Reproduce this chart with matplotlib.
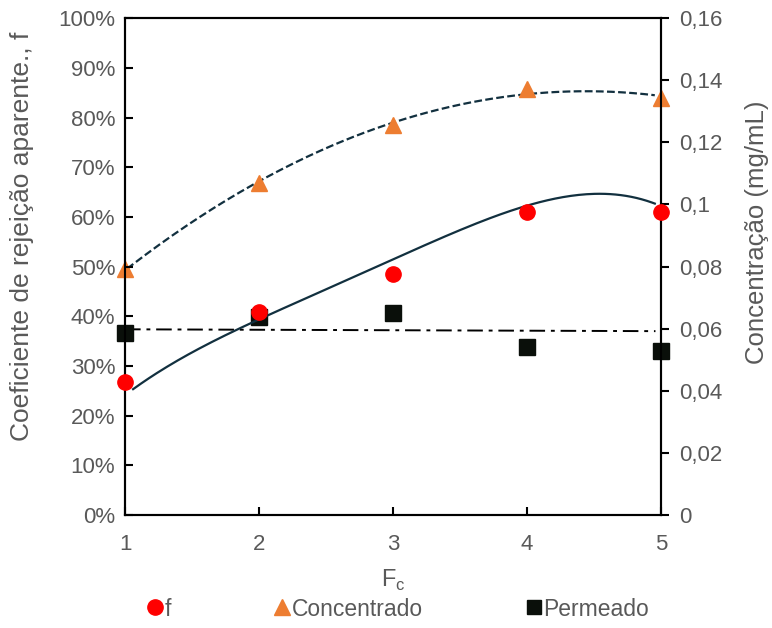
import numpy as np
import matplotlib
matplotlib.use('Agg')
import matplotlib.pyplot as plt
from matplotlib.lines import Line2D

plt.rcParams['font.family'] = ['Liberation Sans', 'DejaVu Sans']

fc = [1, 2, 3, 4, 5]
f_vals = [0.268, 0.408, 0.486, 0.610, 0.610]          # left axis (fraction)
concentrado = [0.0792, 0.1069, 0.1256, 0.1371, 0.1343]  # mg/mL, right axis
permeado = [0.0586, 0.0637, 0.0649, 0.0540, 0.0528]     # mg/mL, right axis

# trendline readings
f_trend_x = [1.06, 2, 3, 3.8, 4.455, 4.955]
f_trend_y = [0.253, 0.395, 0.511, 0.610, 0.642, 0.628]
perm_trend_x = [1, 5]
perm_trend_y = [0.0598, 0.0592]

gray = '#595959'
navy = '#12303f'
fs_tick = 16
fs_lab = 18.5

fig = plt.figure(figsize=(7.72, 6.28), dpi=100)
ax = fig.add_axes([0.162, 0.180, 0.694, 0.791])
ax2 = ax.twinx()

# trendlines
xs = np.linspace(1.06, 4.955, 200)
ax.plot(xs, np.polyval(np.polyfit(f_trend_x, f_trend_y, 4), xs),
        color=navy, lw=1.6, zorder=2)
xs_c = np.linspace(0.95, 4.955, 200)
ax2.plot(xs_c, np.polyval(np.polyfit(fc, concentrado, 2), xs_c),
         color=navy, lw=1.6, ls=(0, (3.5, 1.5)), zorder=2)
xs_p = np.linspace(1.0, 4.96, 50)
ax2.plot(xs_p, np.polyval(np.polyfit(perm_trend_x, perm_trend_y, 1), xs_p),
         color='black', lw=1.4, ls=(0, (8, 3, 2, 3)), zorder=2)

# points
ax.plot(fc, f_vals, 'o', color='#ff0000', ms=11, zorder=5, clip_on=False)
ax2.plot(fc, concentrado, '^', color='#ed7d31', ms=12, zorder=5, clip_on=False)
ax2.plot(fc, permeado, 's', color='#0a0f0a', ms=11, zorder=5, clip_on=False)

ax.set_zorder(ax2.get_zorder() + 1)
ax.patch.set_visible(False)

ax.set_xlim(1, 5)
ax.set_ylim(0, 1)
ax2.set_ylim(0, 0.16)
ax.set_xticks(fc)
ax.set_yticks(np.arange(0, 1.01, 0.1))
ax.set_yticklabels([f'{int(round(v * 100))}%' for v in np.arange(0, 1.01, 0.1)])
rt = np.arange(0, 0.161, 0.02)
ax2.set_yticks(rt)
ax2.set_yticklabels([f'{v:g}'.replace('.', ',') for v in np.round(rt, 2)])

for a in (ax, ax2):
    for s in a.spines.values():
        s.set_linewidth(1.5)
        s.set_color('black')

ax.tick_params(axis='y', direction='in', length=6, width=1.5,
               labelsize=fs_tick, labelcolor=gray, pad=7)
ax.tick_params(axis='x', direction='in', length=6, width=1.5,
               labelsize=fs_tick, labelcolor=gray, pad=14)
ax2.tick_params(axis='y', direction='out', length=6, width=1.5,
                labelsize=fs_tick, labelcolor=gray, pad=7)

# axis titles (placed like the original, a bit above the axes centre)
fig.text(22 / 772, 1 - 236 / 628, 'Coeficiente de rejeição aparente., f',
         rotation=90, ha='center', va='center', fontsize=19, color=gray)
fig.text(757 / 772, 1 - 232 / 628, 'Concentração (mg/mL)',
         rotation=90, ha='center', va='center', fontsize=fs_lab, color=gray)
fig.text(393 / 772, 1 - 580 / 628, 'F$_\\mathregular{c}$',
         ha='center', va='center', fontsize=fs_tick + 1, color=gray)

handles = [
    Line2D([], [], marker='o', ls='none', color='#ff0000', ms=11),
    Line2D([], [], marker='^', ls='none', color='#ed7d31', ms=11),
    Line2D([], [], marker='s', ls='none', color='#0a0f0a', ms=10),
]
fig.legend(handles, ['f', 'Concentrado', 'Permeado'], loc='center',
           bbox_to_anchor=(398 / 772, 1 - 609 / 628), ncol=3, frameon=False,
           fontsize=fs_tick + 0.5, labelcolor=gray, handlelength=0.7,
           handletextpad=0.05, columnspacing=4.5, borderpad=0)

fig.savefig('out.png', dpi=100)
